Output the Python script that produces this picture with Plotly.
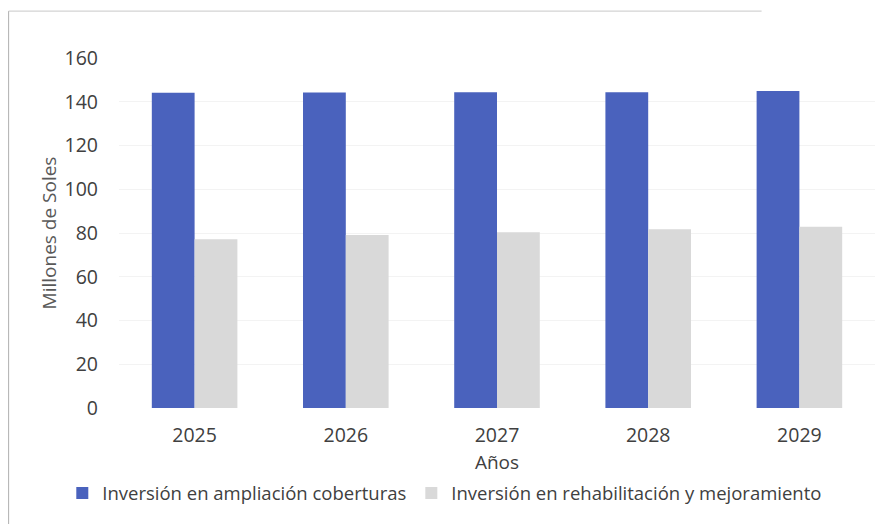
import plotly.graph_objects as go

years = ["2025", "2026", "2027", "2028", "2029"]
ampliacion = [144.1, 144.2, 144.3, 144.4, 144.9]
rehabilitacion = [77.1, 79.1, 80.3, 81.7, 82.9]

series_names = ["Inversión en ampliación coberturas",
                "Inversión en rehabilitación y mejoramiento"]
colors = ["#4a62bd", "#d9d9d9"]
y_ticks = [0, 20, 40, 60, 80, 100, 120, 140, 160]

fig = go.Figure()
fig.add_trace(go.Bar(x=years, y=ampliacion, name=series_names[0],
                     marker=dict(color=colors[0], line=dict(width=0))))
fig.add_trace(go.Bar(x=years, y=rehabilitacion, name=series_names[1],
                     marker=dict(color=colors[1], line=dict(width=0))))

font_fam = "Open Sans, Lato, sans-serif"
fig.update_layout(
    width=889, height=524,
    margin=dict(l=111, r=22, t=50, b=124, autoexpand=False),
    paper_bgcolor="white", plot_bgcolor="white",
    barmode="group", bargap=0.434, bargroupgap=0.0,
    font=dict(family=font_fam, color="#404040", size=19),
    xaxis=dict(title=dict(text="Años", font=dict(size=19), standoff=9),
               showgrid=False, showline=False, ticks="",
               ticklabelstandoff=13, tickfont=dict(size=19.5)),
    yaxis=dict(title=dict(text="Millones de Soles", font=dict(size=19, color="#595959"),
                          standoff=2),
               range=[0, 160], tickvals=y_ticks, showgrid=True,
               gridcolor="#f3f3f3", zeroline=False, showline=False,
               ticklabelstandoff=20, tickfont=dict(size=19.5)),
    legend=dict(orientation="h", x=-0.075, xanchor="left", y=-0.19, yanchor="top",
                font=dict(size=18.5), tracegroupgap=0),
    showlegend=True,
)

fig.add_shape(type="line", xref="paper", yref="paper", x0=-0.146, x1=-0.146,
              y0=-0.34, y1=1.134, line=dict(color="#b0b0b0", width=1))
fig.add_shape(type="line", xref="paper", yref="paper", x0=-0.146, x1=0.85,
              y0=1.134, y1=1.134, line=dict(color="#c8c8c8", width=1))

fig.write_html("out.html")
